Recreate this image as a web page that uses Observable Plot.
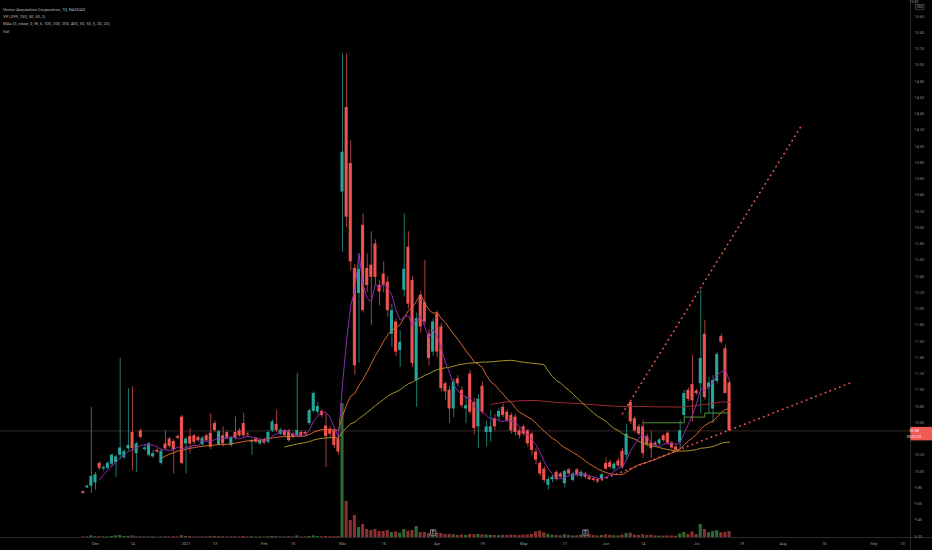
<!DOCTYPE html>
<html><head><meta charset="utf-8">
<script src="https://cdn.jsdelivr.net/npm/d3@7"></script>
<script src="https://cdn.jsdelivr.net/npm/@observablehq/plot@0.6"></script>
<style>
html,body{margin:0;padding:0;background:#000;}
#wrap{position:relative;width:932px;height:550px;overflow:hidden;background:#000;}
#wrap svg{position:absolute;left:0;top:0;overflow:visible;}
</style></head><body><div id="wrap"></div>
<script>
// trading-day index of first candle (0 = 1 Dec 2020)
const firstIndex = -3;
const opens = [
 9.75, 9.80, 9.82, 9.86, 10.10, 10.03, 10.04, 10.09, 10.11, 10.20,
 10.17, 10.28, 10.48, 10.22, 10.50, 10.27, 10.20, 10.18, 10.26, 10.10,
 10.34, 10.40, 10.37, 10.43, 10.67, 10.34, 10.43, 10.44, 10.42, 10.33,
 10.44, 10.47, 10.59, 10.33, 10.44, 10.48, 10.32, 10.48, 10.50, 10.59,
 10.46, 10.36, 10.40, 10.34, 10.39, 10.36, 10.50, 10.58, 10.46, 10.50,
 10.50, 10.46, 10.44, 10.48, 10.48, 10.59, 10.74, 10.73, 10.74, 10.56,
 10.52, 10.50, 10.40, 13.44, 14.48, 13.79, 12.50, 12.19, 13.03, 12.50,
 12.54, 12.80, 12.29, 12.43, 12.33, 11.69, 11.84, 11.49, 12.23, 12.76,
 12.35, 11.12, 12.17, 12.08, 11.69, 11.47, 11.94, 11.78, 11.08, 11.00,
 10.77, 11.14, 11.00, 10.77, 11.20, 10.85, 10.55, 11.05, 10.48, 10.48,
 10.65, 10.67, 10.79, 10.73, 10.69, 10.67, 10.50, 10.55, 10.50, 10.46,
 10.24, 10.10, 10.03, 9.83, 9.90, 9.99, 9.97, 9.85, 10.02, 9.89,
 10.02, 9.94, 9.97, 9.93, 9.91, 9.90, 9.90, 10.10, 10.11, 10.03,
 10.13, 10.25, 10.20, 10.85, 10.65, 10.55, 10.55, 10.43, 10.35, 10.35,
 10.34, 10.44, 10.47, 10.35, 10.30, 10.36, 10.69, 11.00, 11.07, 10.99,
 11.08, 11.69, 11.03, 10.77, 11.11, 11.66, 11.51, 11.09];
const highs = [
 9.76, 9.83, 10.79, 9.99, 10.12, 10.07, 10.12, 10.22, 10.20, 11.39,
 10.27, 11.02, 11.04, 10.36, 10.53, 10.32, 10.36, 10.26, 10.28, 10.28,
 10.50, 10.42, 10.39, 10.45, 10.69, 10.42, 10.53, 10.46, 10.44, 10.43,
 10.46, 10.71, 10.62, 10.51, 10.55, 10.50, 10.43, 10.67, 10.53, 10.72,
 10.48, 10.40, 10.42, 10.40, 10.41, 10.50, 10.63, 10.75, 10.53, 10.52,
 10.52, 10.48, 11.21, 10.50, 10.50, 10.77, 10.98, 10.85, 10.76, 10.71,
 10.55, 10.53, 10.44, 15.14, 15.14, 14.07, 12.55, 12.68, 13.17, 12.68,
 12.95, 12.85, 12.35, 12.58, 12.40, 12.06, 11.88, 11.73, 13.17, 12.95,
 12.40, 11.95, 12.22, 12.60, 11.75, 11.88, 11.98, 11.82, 11.10, 11.05,
 11.14, 11.18, 11.04, 10.92, 11.24, 10.90, 10.95, 11.10, 10.62, 10.75,
 10.70, 10.78, 10.83, 10.76, 10.72, 10.70, 10.53, 10.57, 10.52, 10.48,
 10.28, 10.13, 10.06, 9.93, 9.95, 10.01, 9.99, 10.02, 10.04, 9.99,
 10.04, 10.01, 9.99, 9.95, 9.93, 9.92, 9.98, 10.17, 10.14, 10.11,
 10.16, 10.28, 10.58, 10.87, 10.68, 10.58, 10.63, 10.46, 10.50, 10.37,
 10.41, 10.46, 10.49, 10.37, 10.32, 10.63, 11.00, 11.03, 11.43, 11.01,
 12.23, 11.86, 11.16, 11.18, 11.47, 11.69, 11.55, 11.12];
const lows = [
 9.72, 9.79, 9.73, 9.77, 10.01, 10.00, 10.02, 10.05, 9.93, 10.15,
 10.15, 10.25, 10.01, 9.99, 10.40, 10.25, 10.18, 10.16, 10.22, 10.08,
 10.26, 10.29, 9.97, 10.39, 10.08, 9.97, 10.22, 10.33, 10.36, 10.31,
 10.36, 10.27, 10.48, 10.31, 10.30, 10.39, 10.30, 10.39, 10.42, 10.42,
 10.42, 10.20, 10.34, 10.32, 10.33, 10.34, 10.48, 10.48, 10.44, 10.42,
 10.36, 10.40, 10.42, 10.42, 10.44, 10.57, 10.72, 10.70, 10.66, 10.05,
 10.42, 10.28, 10.20, 12.70, 13.00, 12.47, 11.18, 11.33, 11.95, 12.20,
 11.80, 12.30, 12.04, 12.20, 11.90, 11.53, 11.41, 11.28, 12.15, 12.00,
 11.28, 10.79, 11.70, 11.80, 11.30, 11.42, 11.40, 10.98, 10.87, 10.59,
 10.66, 11.04, 10.78, 10.59, 10.70, 10.45, 10.28, 10.70, 10.30, 10.36,
 10.50, 10.62, 10.66, 10.60, 10.46, 10.44, 10.40, 10.43, 10.30, 10.20,
 10.08, 9.94, 9.86, 9.77, 9.86, 9.88, 9.91, 9.80, 9.95, 9.87,
 9.93, 9.92, 9.91, 9.89, 9.87, 9.86, 9.88, 10.01, 10.03, 10.01,
 10.05, 10.03, 10.14, 10.58, 10.47, 10.44, 10.16, 10.30, 10.16, 10.30,
 10.32, 10.36, 10.33, 10.27, 10.24, 10.26, 10.66, 10.86, 10.61, 10.94,
 10.71, 10.88, 10.71, 10.59, 11.08, 11.57, 10.96, 10.50];
const closes = [
 9.73, 9.82, 9.94, 9.96, 10.04, 10.05, 10.10, 10.20, 10.18, 10.29,
 10.245, 10.32, 10.28, 10.34, 10.42, 10.29, 10.34, 10.22, 10.24, 10.25,
 10.28, 10.31, 10.27, 10.41, 10.10, 10.40, 10.34, 10.36, 10.38, 10.41,
 10.38, 10.30, 10.505, 10.49, 10.34, 10.41, 10.41, 10.41, 10.44, 10.44,
 10.45, 10.38, 10.36, 10.38, 10.35, 10.48, 10.61, 10.505, 10.51, 10.44,
 10.38, 10.42, 10.505, 10.44, 10.46, 10.75, 10.96, 10.80, 10.69, 10.43,
 10.46, 10.32, 10.24, 13.93, 13.13, 12.58, 11.30, 12.49, 11.98, 12.29,
 12.39, 12.39, 12.21, 12.29, 11.98, 11.98, 11.47, 11.59, 12.49, 12.06,
 11.33, 11.88, 11.78, 11.84, 11.39, 11.84, 11.47, 11.02, 10.98, 10.77,
 11.10, 11.08, 10.81, 10.81, 10.73, 10.53, 10.89, 10.73, 10.55, 10.55,
 10.55, 10.74, 10.69, 10.63, 10.50, 10.48, 10.44, 10.46, 10.34, 10.26,
 10.14, 9.97, 9.89, 9.90, 9.93, 9.90, 9.93, 10.00, 9.97, 9.97,
 9.95, 9.99, 9.93, 9.90, 9.89, 9.88, 9.96, 10.03, 10.05, 10.09,
 10.07, 10.05, 10.46, 10.61, 10.50, 10.46, 10.22, 10.33, 10.28, 10.32,
 10.39, 10.38, 10.35, 10.29, 10.26, 10.50, 10.96, 10.89, 10.87, 10.96,
 11.39, 10.91, 11.09, 11.12, 11.44, 11.59, 10.96, 10.50];
// volume, millions of shares
const volumes = [
 0.3, 0.3, 0.8, 0.4, 0.4, 0.3, 0.3, 0.6, 0.8, 1.0,
 0.5, 0.6, 0.8, 0.4, 0.4, 0.3, 0.3, 0.3, 0.2, 0.3,
 0.4, 0.3, 0.4, 0.3, 0.9, 0.5, 0.5, 0.3, 0.3, 0.3,
 0.3, 0.6, 0.5, 0.4, 0.4, 0.3, 0.3, 0.4, 0.3, 0.5,
 0.3, 0.4, 0.3, 0.3, 0.3, 0.4, 0.6, 0.5, 0.3, 0.3,
 0.4, 0.3, 0.8, 0.3, 0.3, 0.5, 0.8, 0.5, 0.4, 0.5,
 0.4, 0.4, 0.5, 67, 18, 8.5, 11, 5, 6.5, 4,
 3.5, 4, 3, 3, 3.5, 2.5, 2.8, 2.2, 4, 3.2,
 3.5, 5.5, 2.5, 2.5, 2, 2, 2.2, 2, 1.5, 1.6,
 1.4, 1, 1.2, 1, 1.5, 1.4, 1.6, 1.4, 1.2, 1,
 1, 0.9, 1.1, 1, 1.2, 1.1, 1, 1.2, 1.3, 1.5,
 2.8, 3.2, 2.4, 1.6, 1.2, 1.0, 0.9, 1.4, 1.0, 0.8,
 0.9, 1.2, 1.8, 1.4, 1.0, 0.8, 1.0, 1.4, 1.0, 0.9,
 0.8, 1.2, 2.0, 2.2, 1.2, 1.0, 1.4, 1.0, 1.2, 0.8,
 0.7, 0.7, 0.8, 0.8, 0.7, 1.8, 2.6, 1.6, 2.8, 1.5,
 6.5, 4, 2.4, 3.0, 3.4, 2.4, 2.6, 3.0];

// weekly MA (step line)
const weeklyIdx = [133, 143, 148, 154];
const weeklyVal = [10.60, 10.67, 10.72, 10.72];

// hand-drawn dotted trend lines (trading-day index, price)
const lowerTrendIdx = [121.9, 183.6];
const lowerTrendPrice = [9.877, 11.095];
const upperTrendIdx = [128.0, 171.2];
const upperTrendPrice = [10.714, 14.234];

// earnings markers
const earningsIdx = [82, 119];

// axis labels
const dateTickIdx = [0, 9, 22, 29, 41, 48, 60, 70, 83, 94, 104, 114, 124, 133, 146, 157, 167, 177, 189, 196];
const dateTickLabels = ["Dec","14","2021","13","Feb","10","Mar","15","Apr","19","May","17","Jun","14","Jul","19","Aug","16","Sep","13"];
const priceTicks = [15.6,15.4,15.2,15.0,14.8,14.6,14.4,14.2,14.0,13.8,13.6,13.4,13.2,13.0,12.8,12.6,12.4,12.2,12.0,11.8,11.6,11.4,11.2,11.0,10.8,10.6,10.2,10.0,9.8,9.6,9.4,9.2];
const topTick = 15.8;

const legendLines = [
  "Vector Acquisition Corporation, 1D, NASDAQ",
  "VP (399, 250, 50, 50, 2)",
  "MAs (0, close, 0, W, 5, 100, 200, 200, 400, 30, 50, 5, 20, 20)",
  "Vol"
];
const countdown = "03:21:23";

const candles = opens.map((o, k) => ({
  i: firstIndex + k, open: o, high: highs[k], low: lows[k], close: closes[k], vol: volumes[k]
}));
const lastClose = closes[closes.length - 1];

const UP = "#26a69a", DOWN = "#ef5350";
const WICK_UP = "#1d7a70", WICK_DOWN = "#a9403e";
const VOL_UP = "#2f6a33", VOL_DOWN = "#8a3130";
const isUp = d => d.close >= d.open;

const W = 932, H = 550;
const xDomain = [-23.07, 197.95];
const xRange = [0, 910];
const FONT = "Roboto, 'Noto Sans', sans-serif";

// ---- volume layer ----
const volPlot = Plot.plot({
  width: W, height: H,
  marginTop: 0, marginBottom: 0, marginLeft: 0, marginRight: 0,
  style: {background: "transparent", fontFamily: FONT},
  x: {type: "linear", domain: xDomain, range: xRange, axis: null},
  y: {type: "linear", domain: [0, 67], range: [537, 403], axis: null},
  color: {type: "identity"},
  marks: [
    Plot.rect(candles, {x1: d => d.i - 0.37, x2: d => d.i + 0.37, y1: 0, y2: "vol", fill: d => isUp(d) ? VOL_UP : VOL_DOWN}),
    Plot.ruleY([0], {stroke: "#2a2a2e", strokeWidth: 1}),
    Plot.dot(earningsIdx, {x: d => d, y: 0, dy: -5, symbol: "square", r: 3, stroke: "#a0a0a0", strokeWidth: 0.8, fill: "#000"}),
    Plot.text(earningsIdx, {x: d => d, y: 0, dy: -5, text: () => "E", fill: "#c8c8c8", fontSize: 4.5})
  ]
});

// ---- price layer ----
function overlay(index, scales, values, dims) {
  const g = d3.create("svg:g").attr("font-family", FONT);
  const x0 = dims.width - dims.marginRight;
  const yy = scales.y(lastClose);
  g.append("line").attr("x1", x0 + 0.5).attr("x2", x0 + 0.5).attr("y1", 0).attr("y2", dims.height)
    .attr("stroke", "#2a2a2e").attr("stroke-width", 1);
  g.append("rect").attr("x", x0 + 0.5).attr("y", yy - 3.5).attr("width", dims.marginRight).attr("height", 13.5)
    .attr("fill", "#f05a55");
  g.append("text").attr("x", x0 + 4).attr("y", yy + 0.5).attr("dy", "0.35em")
    .attr("font-size", 4).attr("fill", "#fff").text(lastClose.toFixed(2));
  g.append("text").attr("x", x0 + 4).attr("y", yy + 6).attr("dy", "0.35em")
    .attr("font-size", 3.6).attr("fill", "#fff").text(countdown);
  // top tick, kept inside the frame
  g.append("text").attr("x", x0 + 4).attr("y", 0.3).attr("dy", "0.8em")
    .attr("font-size", 3.6).attr("fill", "#8c8c8c").text(topTick.toFixed(2));
  // currency badge
  g.append("rect").attr("x", x0 + 5.5).attr("y", 4.6).attr("width", 8.5).attr("height", 4.6)
    .attr("fill", "#000").attr("stroke", "#777").attr("stroke-width", 0.5);
  g.append("text").attr("x", x0 + 9.75).attr("y", 6.9).attr("dy", "0.35em").attr("text-anchor", "middle")
    .attr("font-size", 3.1).attr("fill", "#aaa").text("USD");
  return g.node();
}

const pricePlot = Plot.plot({
  width: W, height: H,
  marginTop: 0, marginBottom: 0, marginLeft: 0, marginRight: 22,
  style: {background: "transparent", fontFamily: FONT},
  x: {type: "linear", domain: xDomain, range: xRange, axis: null},
  y: {type: "linear", domain: [9.028, 15.797], range: [H, 0], axis: null},
  color: {type: "identity"},
  marks: [
    Plot.ruleY([lastClose], {stroke: "#4a3434", strokeWidth: 0.8}),
    Plot.ruleX(candles, {x: "i", y1: "low", y2: "high", stroke: d => isUp(d) ? WICK_UP : WICK_DOWN, strokeWidth: 1}),
    Plot.rect(candles, {x1: d => d.i - 0.37, x2: d => d.i + 0.37, y1: "open", y2: "close", fill: d => isUp(d) ? UP : DOWN}),
    Plot.lineY(candles, Plot.windowY({k: 100, anchor: "end", strict: true}, {x: "i", y: "close", stroke: "#9c2a33", strokeWidth: 1})),
    Plot.lineY(candles, Plot.windowY({k: 50, anchor: "end", strict: true}, {x: "i", y: "close", stroke: "#a8922c", strokeWidth: 1})),
    Plot.lineY(candles, Plot.windowY({k: 20, anchor: "end", strict: true}, {x: "i", y: "close", stroke: "#d8662c", strokeWidth: 1})),
    Plot.lineY(candles, Plot.windowY({k: 5, anchor: "end", strict: true}, {x: "i", y: "close", stroke: "#8e2bb0", strokeWidth: 1})),
    Plot.line(weeklyIdx.map((d, k) => ({i: d, v: weeklyVal[k]})), {x: "i", y: "v", curve: "step-after", stroke: "#4f8f36", strokeWidth: 1}),
    Plot.line(lowerTrendIdx.map((d, k) => ({i: d, p: lowerTrendPrice[k]})), {x: "i", y: "p", stroke: "#ee5550", strokeWidth: 1.8, strokeDasharray: "0.1 5", strokeLinecap: "round"}),
    Plot.line(upperTrendIdx.map((d, k) => ({i: d, p: upperTrendPrice[k]})), {x: "i", y: "p", stroke: "#ee5550", strokeWidth: 1.8, strokeDasharray: "0.1 5", strokeLinecap: "round"}),
    Plot.axisY(priceTicks, {anchor: "right", tickSize: 0, tickPadding: 4, tickFormat: d => d.toFixed(2), fill: "#8c8c8c", fontSize: 3.8, label: null}),
    Plot.text(dateTickIdx, {x: d => d, text: (d, k) => dateTickLabels[k], frameAnchor: "bottom", dy: -6, fill: "#9a9a9a", fontSize: 4}),
    Plot.text([legendLines.join("\n")], {frameAnchor: "top-left", dx: 2.5, dy: 4.8, lineAnchor: "top", lineHeight: 1.77, fontSize: 4.2, fill: "#b8b8b8", textAnchor: "start"}),
    overlay
  ]
});

const wrap = document.getElementById("wrap");
wrap.appendChild(volPlot);
wrap.appendChild(pricePlot);
</script>
</body></html>
